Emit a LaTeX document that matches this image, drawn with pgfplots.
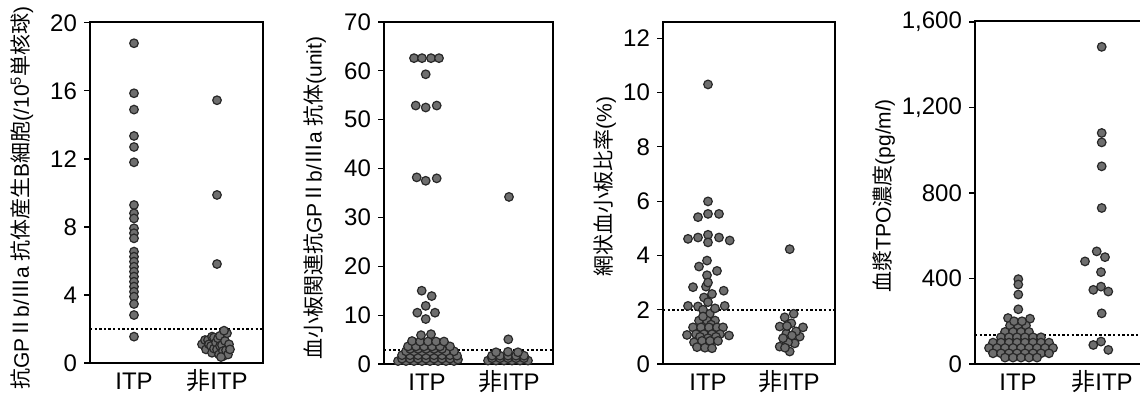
\documentclass[border=0pt]{standalone}
\usepackage{fontspec}
\setmainfont{Liberation Sans}
\newfontfamily\cjk{Noto Sans CJK JP}
\usepackage{pgfplots}
\pgfplotsset{compat=1.18}
\definecolor{dotfill}{RGB}{110,110,110}
\definecolor{dotline}{RGB}{40,40,40}
\pgfplotsset{
  panel/.style={
    scale only axis, xmin=0, ymin=0,
    axis line style={line width=0.75pt, black},
    ytick style={black, line width=0.6pt},
    ytick align=outside, ytick pos=left, major tick length=3pt,
    xtick style={draw=none},
    tick label style={font=\fontsize{12}{14}\selectfont},
    xticklabel style={anchor=base, yshift=-13.4pt, inner sep=0pt, text depth=0pt},
    /pgf/number format/assume math mode=true,
    ylabel style={anchor=center, font=\fontsize{10.5}{12}\selectfont},
  },
  dots/.style={only marks, mark=*, mark size=2.15pt,
    mark options={fill=dotfill, draw=dotline, line width=0.6pt}},
  cut/.style={dash pattern=on 1.2pt off 1.1pt, line width=0.85pt, black},
}
\begin{document}
\begin{tikzpicture}
\useasboundingbox (0,0) rectangle (570pt,197.5pt);
% ---------------- Panel 1
\begin{axis}[panel, at={(45pt,16pt)}, anchor=south west,
  width=86.5pt, height=170.5pt, xmax=173, ymax=20.05,
  ytick={0,4,...,20}, xtick={44,127}, xticklabels={ITP,{\cjk 非}ITP},
  ylabel={{\cjk 抗}GP{\cjk Ⅱ}b/{\cjk Ⅲ}a {\cjk 抗体産生}B{\cjk 細胞}(/10\textsuperscript{5}{\cjk 単核球})},
  ylabel style={at={(rel axis cs:-0.393,0.484)}}]
\addplot[cut] coordinates {(0,2) (173,2)};
\addplot[dots] coordinates {(44,18.8)(44,15.86)(44,14.9)(44,13.35)(44,12.7)(44,11.8)(44,9.29)(44,8.8)(44,8.5)(44,7.92)(44,7.63)(44,7.33)(44,6.55)(44,6.25)(44,5.96)(44,5.66)(44,5.37)(44,5.08)(44,4.78)(44,4.49)(44,4.19)(44,3.90)(44,3.47)(44,2.82)(44,1.55)};
\addplot[dots] coordinates {(127,15.45)(127,9.88)(127,5.82)
(112,1.1)(115,1.35)(116,0.8)(118,1.35)(119,1.1)(121,1.0)(122,0.6)(122,1.55)(124,1.5)(124,0.85)(126,1.2)(127,0.8)(128,1.45)(129,0.5)(130,1.6)(130,1.0)(132,1.05)(133,0.4)(133,0.7)(135,1.3)(136,0.75)(137,1.75)(138,0.5)(139,1.1)(140,0.8)(134,1.9)(131,0.35)};
\end{axis}
% ---------------- Panel 2
\begin{axis}[panel, at={(192pt,15.5pt)}, anchor=south west,
  width=84.5pt, height=171pt, xmax=169, ymax=70,
  ytick={0,10,...,70}, xtick={43,125}, xticklabels={ITP,{\cjk 非}ITP},
  ylabel={{\cjk 血小板関連抗}GP{\cjk Ⅱ}b/{\cjk Ⅲ}a {\cjk 抗体}(unit)},
  ylabel style={at={(rel axis cs:-0.408,0.485)}}]
\addplot[cut] coordinates {(0,2.9) (169,2.9)};
\addplot[dots] coordinates {(30,62.6)(38,62.6)(47,62.6)(55,62.6)(41.7,59.3)
(31.7,52.9)(41.7,52.5)(52.7,52.9)(32.7,38.2)(41.7,37.5)(52.7,38.0)
(37.7,15.0)(47.7,13.9)(41.7,11.9)(33.3,10.5)(51,10.5)(41.7,9.2)
(14,0.6)(22,0.6)(30,0.6)(38,0.6)(46,0.6)(54,0.6)(62,0.6)(70,0.6)
(18,1.1)(26,1.1)(34,1.1)(42,1.1)(50,1.1)(58,1.1)(66,1.1)(74,0.9)
(18,1.8)(26,1.8)(34,1.8)(42,1.8)(50,1.8)(58,1.8)(66,1.8)(73,1.7)
(22,2.6)(30,2.6)(38,2.6)(46,2.6)(54,2.6)(62,2.6)(70,2.6)
(26,3.1)(34,3.1)(42,3.1)(50,3.1)(58,3.1)
(24,3.6)(32,3.6)(40,3.6)(48,3.6)(56,3.6)(66,3.6)
(28,4.7)(36,4.6)(44,4.6)(52,4.6)(60,4.6)(37,5.9)(47,6.1)};
\addplot[dots] coordinates {(125,34.2)(124.3,5.05)
(104,0.7)(112,0.7)(120,0.7)(128,0.7)(136,0.7)(144,0.7)
(108,1.2)(116,1.2)(124,1.2)(132,1.2)(140,1.2)
(108,1.7)(116,1.7)(124,1.7)(132,1.7)(140,1.7)
(112,2.4)(124,2.5)(134,2.4)};
\end{axis}
% ---------------- Panel 3
\begin{axis}[panel, at={(331.5pt,15.5pt)}, anchor=south west,
  width=86pt, height=171pt, xmax=172, ymax=12.6,
  ytick={0,2,...,12}, xtick={45,126}, xticklabels={ITP,{\cjk 非}ITP},
  ylabel={{\cjk 網状血小板比率}(\%)},
  ylabel style={at={(rel axis cs:-0.337,0.519)}}]
\addplot[cut] coordinates {(0,2) (172,2)};
\addplot[dots] coordinates {(45,10.3)(45,5.99)(35,5.41)(45,5.53)(56,5.53)
(25,4.61)(35,4.66)(45,4.76)(45,4.48)(56,4.66)(66.7,4.55)
(44,3.81)(36,3.59)(54,3.43)(44,3.27)(30,2.83)(60.7,2.70)(43,2.85)(49,2.58)(41,2.45)(45,3.0)
(25,2.14)(35,2.12)(45,2.28)(61.7,2.14)(46.7,1.85)(40,2.0)(52,2.05)
(36,1.6)(44,1.6)(52,1.6)(40,1.75)(48,1.45)
(30,1.35)(38,1.35)(46,1.35)(54,1.35)(60,1.35)
(24,1.07)(33,1.1)(41,1.1)(49,1.1)(57,1.1)(66,1.05)(37,1.0)(45,0.95)(53,1.0)
(31,0.8)(39,0.85)(47,0.85)(55,0.85)
(34,0.62)(42,0.6)(49,0.58)};
\addplot[dots] coordinates {(126.7,4.23)
(130.7,1.85)(121.7,1.72)(116.7,1.38)(140,1.35)(128.3,1.5)(123.3,1.12)(136.7,1.01)
(116.7,0.64)(126.7,0.46)(131.7,0.76)(125,0.8)(133,1.2)(120,0.95)(124,1.4)(129,1.05)(122,0.6)};
\end{axis}
% ---------------- Panel 4
\begin{axis}[panel, at={(487.5pt,15.5pt)}, anchor=south west,
  width=86pt, height=171.5pt, xmax=172, ymax=1605,
  ytick={0,400,...,1600}, scaled y ticks=false,
  /pgf/number format/1000 sep={,},
  xtick={43,127}, xticklabels={ITP,{\cjk 非}ITP},
  ylabel={{\cjk 血漿}TPO{\cjk 濃度}(pg/m\textit{l})},
  ylabel style={at={(rel axis cs:-0.529,0.49)}}]
\addplot[cut] coordinates {(0,135) (172,135)};
\addplot[dots] coordinates {(43.3,397)(43.3,372)(43.3,325)(43.3,256)
(33,215)(55,212)(35,180)(43,180)(51,180)(39,200)(47,200)
(30,150)(38,150)(46,150)(54,150)
(26,125)(34,125)(42,125)(50,125)(58,125)(66,125)
(18,100)(26,100)(34,100)(42,100)(50,100)(58,100)(66,100)(74,100)
(14,75)(22,75)(30,75)(38,75)(46,75)(54,75)(62,75)(70,75)(78,75)
(18,50)(26,50)(34,50)(42,50)(50,50)(58,50)(66,50)(74,50)
(30,30)(38,30)(46,30)(54,30)(62,30)};
\addplot[dots] coordinates {(126.7,1484)(126.7,1081)(126.7,1037)(126.7,925)(126.7,730)
(110,480)(121.7,527)(130,500)(126,430)(118.3,347)(126,362)(133.3,339)(126.7,237)
(118.3,89)(126,105)(133.3,66)};
\end{axis}
\end{tikzpicture}
\end{document}
